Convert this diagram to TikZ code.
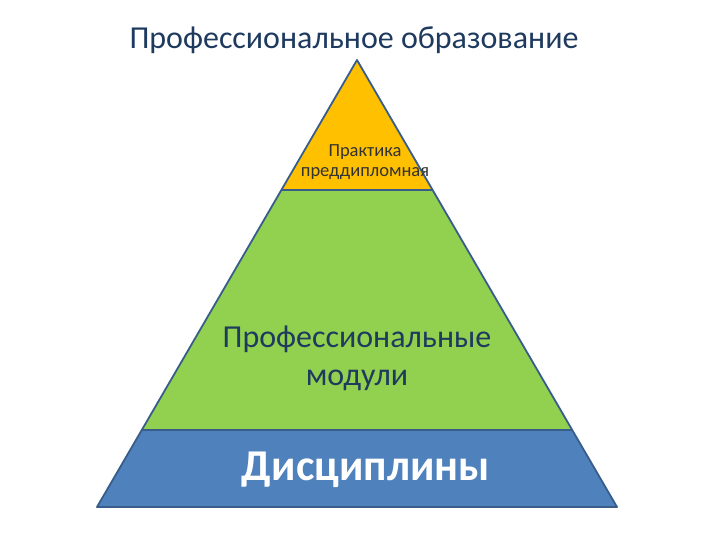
\documentclass[tikz,border=0pt]{standalone}
\usepackage{fontspec}
\setmainfont{Carlito}
\definecolor{ttl}{HTML}{1F3A5F}
\definecolor{edge}{HTML}{385D8A}
\definecolor{yel}{HTML}{FFC000}
\definecolor{grn}{HTML}{92D050}
\definecolor{blu}{HTML}{4F81BD}
\definecolor{dtxt}{HTML}{1F3A5F}
\begin{document}
\begin{tikzpicture}[x=1pt,y=-1pt,
  layer/.style={draw=edge,line width=1.8pt,line join=round},
  lbl/.style={inner sep=0pt,align=center}]
\useasboundingbox (0,0) rectangle (720,540);
\coordinate (apex) at (357,60);
\coordinate (bl) at (97,507);
\coordinate (br) at (617,507);
\coordinate (yl) at (281.4,190);
\coordinate (yr) at (432.6,190);
\coordinate (gl) at (141.7,430);
\coordinate (gr) at (572.3,430);
\fill[blu] (gl) -- (gr) -- (br) -- (bl) -- cycle;
\fill[grn] (yl) -- (yr) -- (gr) -- (gl) -- cycle;
\fill[yel] (apex) -- (yr) -- (yl) -- cycle;
\draw[layer] (yl) -- (yr);
\draw[layer] (gl) -- (gr);
\draw[layer] (apex) -- (br) -- (bl) -- cycle;
\node[lbl,text=ttl,font=\fontsize{32}{36}\selectfont] (title) at (354,40) {Профессиональное образование};
\node[lbl,text=black!80,font=\fontsize{18.5}{20}\selectfont] (prak) at (365,162) {Практика\\преддипломная};
\node[lbl,text=dtxt,font=\fontsize{32}{38}\selectfont] (prof) at (357,358) {Профессиональные\\модули};
\node[lbl,text=white,font=\bfseries\fontsize{44}{50}\selectfont] (disc) at (366,470) {Дисциплины};
\end{tikzpicture}
\end{document}
